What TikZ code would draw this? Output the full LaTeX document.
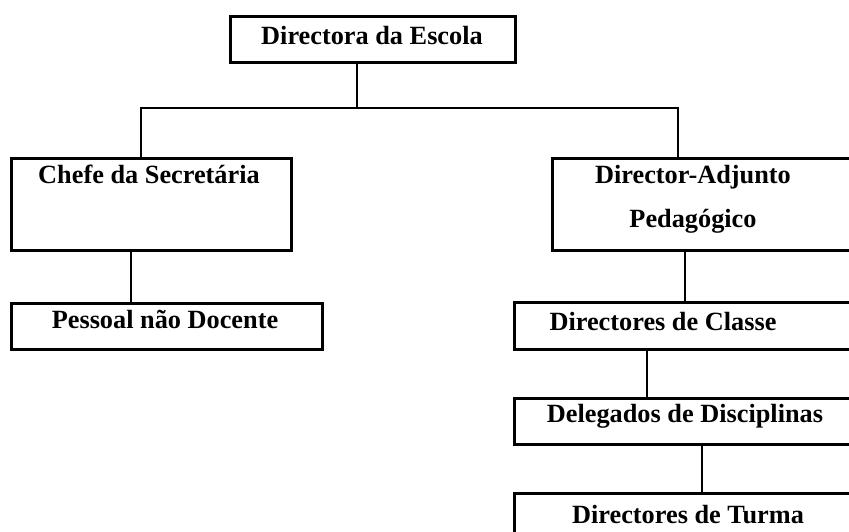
\documentclass[tikz,border=0pt]{standalone}
\usepackage{fontspec}
\setmainfont{Liberation Serif}
\begin{document}
\begin{tikzpicture}[x=1pt,y=-1pt,
  box/.style={draw, line width=2.8pt, rectangle, inner sep=0pt, anchor=north west},
  lbl/.style={anchor=base, inner sep=0pt, font=\fontsize{26.3}{30}\selectfont\bfseries},
  conn/.style={line width=2.8pt}]
\useasboundingbox (0,0) rectangle (849,532);
\clip (0,0) rectangle (849,532);
% boxes
\node[box, minimum width=285pt, minimum height=46pt] (top) at (229,15) {};
\node[box, minimum width=280pt, minimum height=92pt] (chefe) at (10,157) {};
\node[box, minimum width=330pt, minimum height=92pt] (adj) at (551,157) {};
\node[box, minimum width=311pt, minimum height=46pt] (pessoal) at (10,302) {};
\node[box, minimum width=360pt, minimum height=47pt] (classe) at (513,301) {};
\node[box, minimum width=360pt, minimum height=46pt] (deleg) at (513,397) {};
\node[box, minimum width=360pt, minimum height=70pt] (turma) at (513,492) {};
% texts
\node[lbl] (ttop) at (372,45) {Directora da Escola};
\node[lbl] (tchefe) at (149,183) {Chefe da Secretária};
\node[lbl] (tadj1) at (693,183) {Director-Adjunto};
\node[lbl] (tadj2) at (693,227) {Pedagógico};
\node[lbl] (tpessoal) at (165,328) {Pessoal não Docente};
\node[lbl] (tclasse) at (663,330) {Directores de Classe};
\node[lbl] (tdeleg) at (685,422) {Delegados de Disciplinas};
\node[lbl] (tturma) at (688,523) {Directores de Turma};
% connector x positions
\coordinate (xm) at (357,108);
\coordinate (xl) at (141,108);
\coordinate (xr) at (678,108);
\coordinate (x1) at (131,0);
\coordinate (x2) at (685,0);
\coordinate (x3) at (647,0);
\coordinate (x4) at (702,0);
% connectors
\draw[conn] (top.south -| xm) -- (xm);
\draw[conn] (chefe.north -| xl) -- (xl) -- (xr) -- (adj.north -| xr);
\draw[conn] (chefe.south -| x1) -- (pessoal.north -| x1);
\draw[conn] (adj.south -| x2) -- (classe.north -| x2);
\draw[conn] (classe.south -| x3) -- (deleg.north -| x3);
\draw[conn] (deleg.south -| x4) -- (turma.north -| x4);
\end{tikzpicture}
\end{document}
